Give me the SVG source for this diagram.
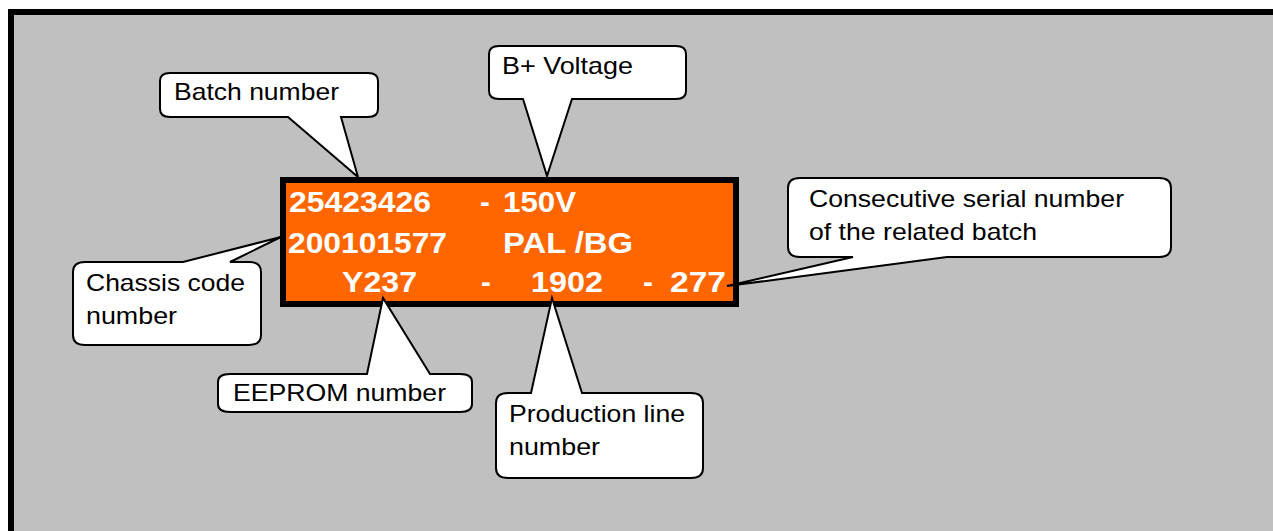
<svg xmlns="http://www.w3.org/2000/svg" width="1273" height="531" viewBox="0 0 1273 531">
<style>
.call{fill:#fff;stroke:#000;stroke-width:2;stroke-linejoin:miter}
.ct{font-family:"Liberation Sans",Arial,sans-serif;font-size:24px;fill:#000}
.ot{font-family:"Liberation Sans",Arial,sans-serif;font-size:29.5px;font-weight:bold;fill:#fff}
</style>
<rect x="0" y="0" width="1273" height="531" fill="#fff"/>
<rect x="8" y="9" width="1270" height="530" fill="#000"/>
<rect x="14" y="15" width="1265" height="520" fill="#C0C0C0"/>
<g id="label">
<rect x="283" y="180" width="453" height="124" fill="#FF6600" stroke="#000" stroke-width="6"/>
<text class="ot" x="289" y="211.5" textLength="142" lengthAdjust="spacingAndGlyphs">25423426</text>
<text class="ot" x="480" y="211.5">-</text>
<text class="ot" x="503" y="211.5" textLength="73" lengthAdjust="spacingAndGlyphs">150V</text>
<text class="ot" x="288" y="253" textLength="159" lengthAdjust="spacingAndGlyphs">200101577</text>
<text class="ot" x="503" y="253" textLength="130" lengthAdjust="spacingAndGlyphs">PAL /BG</text>
<text class="ot" x="342" y="292" textLength="75" lengthAdjust="spacingAndGlyphs">Y237</text>
<text class="ot" x="481" y="292">-</text>
<text class="ot" x="531" y="292" textLength="72" lengthAdjust="spacingAndGlyphs">1902</text>
<text class="ot" x="643" y="292">-</text>
<text class="ot" x="670" y="292" textLength="56" lengthAdjust="spacingAndGlyphs">277</text>
</g>
<g id="connectors"></g>
<g id="batch">
<path class="call" d="M170,73 H368 Q378,73 378,81 V109 Q378,117 368,117 H341 L358,177 L288,117 H170 Q160,117 160,109 V81 Q160,73 170,73 Z"/>
<text class="ct" x="174" y="100" textLength="165" lengthAdjust="spacingAndGlyphs">Batch number</text>
</g>
<g id="voltage">
<path class="call" d="M499,46 H676 Q686,46 686,54 V91 Q686,99 676,99 H572 L547,176 L523,99 H499 Q489,99 489,91 V54 Q489,46 499,46 Z"/>
<text class="ct" x="502" y="73.5" textLength="131" lengthAdjust="spacingAndGlyphs">B+ Voltage</text>
</g>
<g id="serial">
<path class="call" d="M800,178 H1159 Q1171,178 1171,188 V247 Q1171,257 1159,257 H947 L727,286 L853,257 H800 Q788,257 788,247 V188 Q788,178 800,178 Z"/>
<text class="ct" x="809" y="206.5" textLength="315" lengthAdjust="spacingAndGlyphs">Consecutive serial number</text>
<text class="ct" x="809" y="240" textLength="228" lengthAdjust="spacingAndGlyphs">of the related batch</text>
</g>
<g id="chassis">
<path class="call" d="M85,262 H183 L281,237 L230,262 H249 Q261,262 261,272 V335 Q261,345 249,345 H85 Q73,345 73,335 V272 Q73,262 85,262 Z"/>
<text class="ct" x="86" y="290.5" textLength="159" lengthAdjust="spacingAndGlyphs">Chassis code</text>
<text class="ct" x="86" y="324" textLength="91" lengthAdjust="spacingAndGlyphs">number</text>
</g>
<g id="eeprom">
<path class="call" d="M230,374 H367 L383,298 L430,374 H460 Q472,374 472,382 V404 Q472,412 460,412 H230 Q218,412 218,404 V382 Q218,374 230,374 Z"/>
<text class="ct" x="233" y="400.5" textLength="213" lengthAdjust="spacingAndGlyphs">EEPROM number</text>
</g>
<g id="production">
<path class="call" d="M508,393 H531 L552,298 L582,393 H691 Q703,393 703,403 V468 Q703,478 691,478 H508 Q496,478 496,468 V403 Q496,393 508,393 Z"/>
<text class="ct" x="509" y="421.5" textLength="176" lengthAdjust="spacingAndGlyphs">Production line</text>
<text class="ct" x="509" y="455" textLength="91" lengthAdjust="spacingAndGlyphs">number</text>
</g>
</svg>
